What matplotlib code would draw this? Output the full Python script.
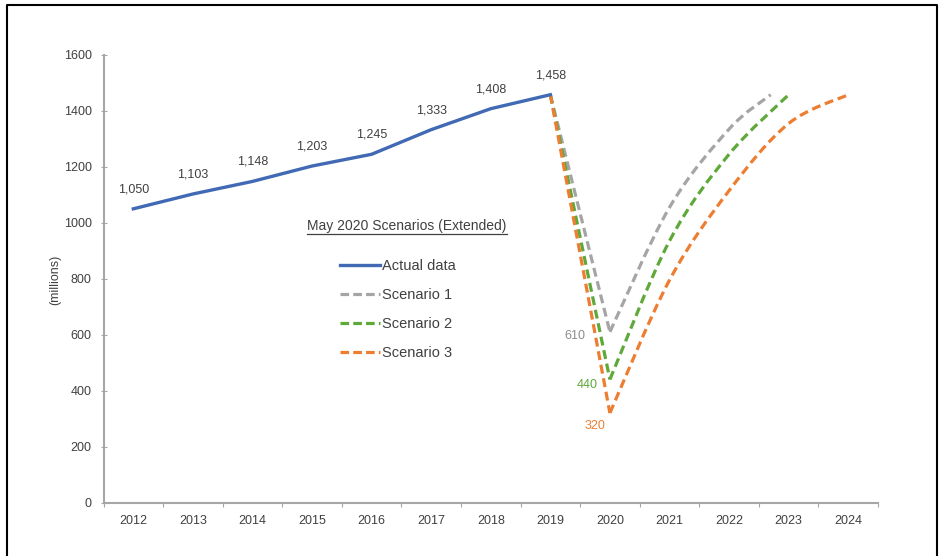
import matplotlib
matplotlib.use("Agg")
import matplotlib.pyplot as plt
from matplotlib.path import Path
from matplotlib.patches import PathPatch
from matplotlib.lines import Line2D

# ---- data ----
years = list(range(2012, 2025))
actual_years = [2012, 2013, 2014, 2015, 2016, 2017, 2018, 2019]
actual_values = [1050, 1103, 1148, 1203, 1245, 1333, 1408, 1458]

s1_years = [2019, 2020, 2021, 2022, 2022.7]
s1_values = [1458, 610, 1055, 1335, 1458]
s2_years = [2019, 2020, 2021, 2022, 2023]
s2_values = [1458, 440, 935, 1245, 1458]
s3_years = [2019, 2020, 2021, 2022, 2023, 2024]
s3_values = [1458, 320, 795, 1115, 1355, 1458]

legend_title = "May 2020 Scenarios (Extended)"
series_names = ["Actual data", "Scenario 1", "Scenario 2", "Scenario 3"]
y_label = "(millions)"

BLUE = "#4169B4"
GREY = "#A5A5A5"
GREEN = "#5FA83A"
ORANGE = "#ED7D31"
TEXT = "#404040"
AXIS = "#A6A6A6"

W, H = 944, 556
plt.rcParams["font.family"] = ["Liberation Sans", "DejaVu Sans"]
fig = plt.figure(figsize=(W / 100, H / 100), dpi=100)
fig.patch.set_facecolor("white")

ax = fig.add_axes([103.5 / W, 1 - 502.5 / H, (878 - 103.5) / W, (502.5 - 55) / H])
ax.set_xlim(years[0] - 0.5, years[-1] + 0.5)
ax.set_ylim(0, 1600)

for s in ["top", "right"]:
    ax.spines[s].set_visible(False)
for s in ["left", "bottom"]:
    ax.spines[s].set_color(AXIS)
    ax.spines[s].set_linewidth(1.5)

ax.set_yticks(range(0, 1601, 200))
ax.tick_params(axis="y", direction="inout", length=5, color=AXIS,
               labelsize=9, labelcolor=TEXT, pad=6)
# category boundaries carry the ticks, centres carry the labels
ax.set_xticks([y - 0.5 for y in years] + [years[-1] + 0.5])
ax.set_xticklabels([])
ax.set_xticks(years, minor=True)
ax.set_xticklabels([str(y) for y in years], minor=True)
ax.tick_params(axis="x", which="major", direction="out", length=3, color=AXIS)
ax.tick_params(axis="x", which="minor", length=0, labelsize=9,
               labelcolor=TEXT, pad=9)

fig.text(55 / W, 1 - 280 / H, y_label, rotation=90, ha="center", va="center",
         fontsize=9, color=TEXT)

DASH = (0, (2.8, 1.5))
LW = 2.3


def smooth_path(xs, ys):
    """Catmull-Rom curve through the points, expressed as cubic Beziers."""
    verts = [(xs[0], ys[0])]
    codes = [Path.MOVETO]
    n = len(xs)
    for i in range(n - 1):
        x0, y0 = (xs[i - 1], ys[i - 1]) if i > 0 else (xs[i], ys[i])
        x1, y1 = xs[i], ys[i]
        x2, y2 = xs[i + 1], ys[i + 1]
        x3, y3 = (xs[i + 2], ys[i + 2]) if i + 2 < n else (x2, y2)
        c1 = (x1 + (x2 - x0) / 6, y1 + (y2 - y0) / 6)
        c2 = (x2 - (x3 - x1) / 6, y2 - (y3 - y1) / 6)
        verts += [c1, c2, (x2, y2)]
        codes += [Path.CURVE4] * 3
    return Path(verts, codes)


for xs, ys, col in [(s1_years, s1_values, GREY),
                    (s2_years, s2_values, GREEN),
                    (s3_years, s3_values, ORANGE)]:
    # straight fall into 2020, smoothed recovery afterwards
    ax.plot(xs[:2], ys[:2], color=col, lw=LW, linestyle=DASH,
            dash_capstyle="butt", zorder=3)
    patch = PathPatch(smooth_path(xs[1:], ys[1:]), fill=False, edgecolor=col,
                      lw=LW, linestyle=DASH, capstyle="butt", zorder=3)
    ax.add_patch(patch)

ax.plot(actual_years, actual_values, color=BLUE, lw=2.4, zorder=4,
        solid_joinstyle="round")

for x, v in zip(actual_years, actual_values):
    ax.annotate(f"{v:,}", (x, v), xytext=(0, 14), textcoords="offset points",
                ha="center", va="center", fontsize=9, color=TEXT)

# trough labels
ax.annotate(f"{s1_values[1]:,}", (s1_years[1], s1_values[1]), xytext=(-25, -3),
            textcoords="offset points", ha="center", va="center",
            fontsize=9, color="#8C8C8C")
ax.annotate(f"{s2_values[1]:,}", (s2_years[1], s2_values[1]), xytext=(-16.5, -4),
            textcoords="offset points", ha="center", va="center",
            fontsize=9, color=GREEN)
ax.annotate(f"{s3_values[1]:,}", (s3_years[1], s3_values[1]), xytext=(-11, -9.5),
            textcoords="offset points", ha="center", va="center",
            fontsize=9, color=ORANGE)

# legend block
LEG_DASH = (0, (2.7, 1.3))
handles = [Line2D([], [], color=BLUE, lw=2.4),
           Line2D([], [], color=GREY, lw=LW, linestyle=LEG_DASH),
           Line2D([], [], color=GREEN, lw=LW, linestyle=LEG_DASH),
           Line2D([], [], color=ORANGE, lw=LW, linestyle=LEG_DASH)]
leg = fig.legend(handles, series_names, loc="upper left",
                 bbox_to_anchor=(340 / W, 1 - 259 / H), frameon=False,
                 fontsize=10.5, handlelength=2.75, handletextpad=0.15,
                 labelspacing=1.02, borderpad=0, borderaxespad=0)
for t in leg.get_texts():
    t.set_color(TEXT)

title = fig.text(407 / W, 1 - 226 / H, legend_title, ha="center", va="center",
                 fontsize=10, color=TEXT)
fig.canvas.draw()
bb = title.get_window_extent()
fig.add_artist(Line2D([bb.x0 / W, bb.x1 / W], [(bb.y0 - 0.5) / H] * 2,
                      color=TEXT, lw=0.9, transform=fig.transFigure))

# outer frame
fig.add_artist(Line2D([7 / W, 7 / W, 937 / W, 937 / W],
                      [0, 1 - 5 / H, 1 - 5 / H, 0],
                      color="black", lw=1.5, transform=fig.transFigure))

fig.savefig("out.png", dpi=100, facecolor="white")
